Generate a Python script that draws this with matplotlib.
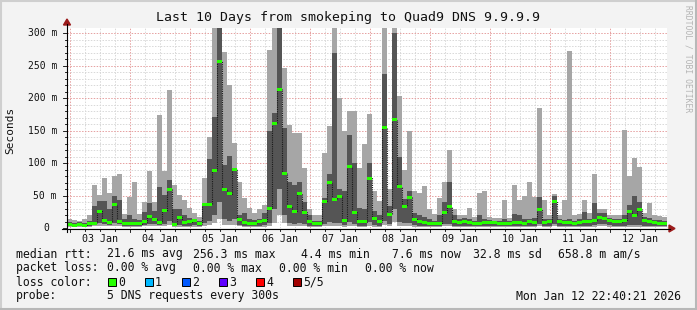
import matplotlib
matplotlib.use('Agg')
import matplotlib.pyplot as plt
import numpy as np
from matplotlib.patches import Rectangle, Polygon
from matplotlib.lines import Line2D

# ---------------- data (2-hour bins, 10 days, starting Jan 02 22:40) ----------------
median = [6, 5, 6, 5, 7, 8, 26, 12, 9, 36, 10, 7, 8, 8, 7, 10, 18, 14, 9, 27,
          60, 6, 17, 9, 10, 12, 7, 37, 37, 89, 257, 60, 53, 91, 13, 9, 8, 8, 10, 12,
          31, 162, 214, 85, 33, 26, 53, 25, 11, 7, 7, 41, 70, 45, 49, 12, 95, 25, 11, 10,
          77, 15, 10, 155, 22, 167, 64, 34, 48, 14, 10, 9, 8, 8, 8, 25, 33, 10, 9, 10,
          9, 8, 8, 9, 9, 9, 8, 8, 8, 9, 9, 8, 10, 9, 29, 9, 10, 41, 10, 9,
          9, 8, 9, 10, 11, 12, 16, 15, 12, 11, 10, 12, 26, 20, 29, 12, 11, 9, 8, 8]
inner_lo = [4, 3, 4, 3, 4, 5, 8, 6, 5, 8, 6, 4, 4, 4, 4, 5, 7, 6, 5, 7,
            12, 3, 5, 4, 4, 5, 4, 8, 12, 20, 40, 15, 12, 15, 5, 4, 4, 4, 4, 5,
            8, 30, 60, 20, 8, 7, 8, 6, 4, 3, 3, 7, 10, 8, 8, 5, 10, 6, 4, 4,
            10, 5, 4, 12, 6, 30, 10, 8, 8, 5, 4, 4, 3, 3, 3, 6, 7, 4, 4, 4,
            4, 4, 4, 4, 4, 4, 4, 4, 4, 4, 4, 4, 4, 4, 6, 4, 4, 6, 4, 4,
            4, 4, 4, 4, 4, 5, 6, 6, 5, 4, 4, 4, 5, 5, 5, 4, 4, 4, 4, 4]
inner_hi = [9, 8, 9, 8, 12, 34, 42, 42, 30, 49, 44, 14, 21, 15, 13, 25, 39, 26, 63, 52,
            75, 29, 29, 20, 16, 15, 12, 39, 106, 172, 320, 98, 111, 93, 21, 24, 15, 13, 15, 24,
            149, 177, 320, 154, 72, 67, 72, 41, 20, 12, 12, 47, 83, 270, 60, 57, 144, 101, 31, 30,
            100, 26, 20, 238, 34, 300, 110, 45, 57, 24, 20, 18, 14, 12, 20, 41, 72, 20, 15, 16,
            14, 12, 20, 14, 13, 12, 12, 14, 12, 22, 20, 14, 14, 16, 48, 14, 14, 50, 14, 13,
            14, 12, 14, 25, 15, 39, 24, 24, 16, 15, 14, 20, 36, 49, 40, 17, 16, 13, 13, 12]
outer_lo = [2, 2, 2, 2, 2, 3, 4, 3, 3, 4, 3, 2, 2, 2, 2, 3, 3, 3, 3, 3,
            5, 2, 2, 2, 2, 2, 2, 3, 5, 8, 15, 5, 5, 5, 3, 2, 2, 2, 2, 2,
            4, 8, 20, 8, 3, 3, 3, 3, 2, 2, 2, 3, 4, 4, 3, 2, 4, 3, 2, 2,
            4, 2, 2, 5, 3, 10, 4, 3, 3, 2, 2, 2, 2, 2, 2, 3, 3, 2, 2, 2,
            2, 2, 2, 2, 2, 2, 2, 2, 2, 2, 2, 2, 2, 2, 3, 2, 2, 3, 2, 2,
            2, 2, 2, 2, 2, 2, 3, 3, 2, 2, 2, 2, 2, 2, 2, 2, 2, 2, 2, 2]
outer_hi = [14, 13, 12, 14, 20, 67, 52, 77, 54, 81, 83, 22, 48, 71, 22, 40, 88, 40, 174, 88,
            213, 67, 52, 44, 31, 24, 18, 77, 141, 320, 320, 272, 221, 131, 72, 47, 31, 24, 29, 36,
            275, 320, 320, 247, 159, 147, 147, 93, 29, 21, 21, 116, 158, 320, 200, 149, 180, 180, 93, 129,
            176, 57, 42, 320, 60, 320, 203, 90, 149, 57, 54, 65, 30, 22, 47, 72, 121, 30, 21, 21,
            31, 18, 54, 57, 17, 16, 16, 44, 16, 66, 44, 49, 71, 48, 185, 44, 20, 53, 20, 43,
            273, 20, 22, 43, 24, 84, 29, 29, 21, 21, 20, 152, 81, 108, 95, 24, 39, 20, 19, 18]

day_labels = ['03 Jan', '04 Jan', '05 Jan', '06 Jan', '07 Jan',
              '08 Jan', '09 Jan', '10 Jan', '11 Jan', '12 Jan']
ytick_vals = [0, 50, 100, 150, 200, 250, 300]
ytick_labels = ['0', '50 m', '100 m', '150 m', '200 m', '250 m', '300 m']
loss_names = ['0', '1', '2', '3', '4', '5/5']
loss_colors = ['#26ff00', '#00b8ff', '#0059ff', '#5e00ff', '#ff0000', '#a10000']

# ---------------- figure ----------------
W, H = 697, 310
BG = '#f3f3f3'
fig = plt.figure(figsize=(W / 100, H / 100), dpi=100, facecolor=BG)
MONO = 'DejaVu Sans Mono'


def fx(px):
    return px / W


def fy(py):
    return 1 - py / H


X0, X1 = 67, 667
Y0, Y1 = 228.3, 27.7
YMAX = (Y0 - Y1) / 0.65
ax = fig.add_axes([fx(X0), fy(Y0), (X1 - X0) / W, (Y0 - Y1) / H])
ax.set_xlim(0, 240)
ax.set_ylim(0, YMAX)
ax.set_facecolor('white')
for s in ax.spines.values():
    s.set_visible(False)
ax.set_xticks([])
ax.set_yticks([])

# grid
off = 4.0 / 3.0  # midnight Jan 03 is 1h20m after start
dots = (0, (1.5, 1.5))
for v in range(10, 310, 10):
    if v % 50:
        ax.axhline(v, color='#d8d8d8', lw=0.7, ls=dots, zorder=0)
for v in range(50, 310, 50):
    ax.axhline(v, color='#e6a0a0', lw=0.7, ls=dots, zorder=0.5)
for k in range(40):
    t = off + 6 * k
    if t >= 240:
        break
    if k % 4:
        ax.axvline(t, color='#d8d8d8', lw=0.7, ls=dots, zorder=0)
    else:
        ax.axvline(t, color='#e6a0a0', lw=0.7, ls=dots, zorder=0.5)

# smoke
n = len(median)
edges = np.arange(n + 1) * 2.0
xs = edges[:-1]
med = np.array(median, float)
ol, oh = np.array(outer_lo, float), np.array(outer_hi, float)
il, ih = np.array(inner_lo, float), np.array(inner_hi, float)
ax.bar(xs, oh - ol, bottom=ol, width=2, align='edge', color='#a6a6a6', lw=0, zorder=2)
ax.bar(xs, ih - il, bottom=il, width=2, align='edge', color='#555555', lw=0, zorder=3)

# median
ax.stairs(med, edges, color='#1a1a1a', lw=0.8, ls=(0, (1, 1)), zorder=4)
gh = 3.0 / 0.65
ax.bar(xs, np.full(n, gh), bottom=med - gh / 2, width=2, align='edge',
       color='#26ff00', lw=0, zorder=5)

# ---------------- axes lines, arrows, ticks ----------------
fig.add_artist(Line2D([fx(62), fx(670)], [fy(228.5)] * 2, color='black', lw=0.8))
fig.add_artist(Line2D([fx(67), fx(67)], [fy(232), fy(24)], color='black', lw=0.8))
fig.add_artist(Polygon([(fx(669), fy(225)), (fx(675), fy(228.5)), (fx(669), fy(232))],
                       closed=True, color='#9b1b1b', transform=fig.transFigure))
fig.add_artist(Polygon([(fx(63.5), fy(25)), (fx(67), fy(19)), (fx(70.5), fy(25))],
                       closed=True, color='#9b1b1b', transform=fig.transFigure))
for v in range(0, 310, 10):
    py = Y0 - 0.65 * v
    ln = 4 if v % 50 == 0 else 2
    fig.add_artist(Line2D([fx(67 - ln), fx(67)], [fy(py)] * 2, color='black', lw=0.6))
for k in range(40):
    t = off + 6 * k
    if t >= 240:
        break
    px = X0 + t * 2.5
    ln = 3 if k % 4 == 0 else 2
    fig.add_artist(Line2D([fx(px)] * 2, [fy(228.5), fy(228.5 + ln)], color='black', lw=0.6))

# ---------------- texts ----------------
fig.text(fx(348), fy(18), 'Last 10 Days from smokeping to Quad9 DNS 9.9.9.9',
         ha='center', va='center', fontsize=9.5, family=MONO, color='#111111')
fig.text(fx(10), fy(130), 'Seconds', rotation=90, ha='center', va='center',
         fontsize=8, family=MONO, color='#111111')
fig.text(fx(688), fy(59), 'RRDTOOL / TOBI OETIKER', rotation=270, ha='center', va='center',
         fontsize=5.8, family=MONO, color='#b4b4b4')

for v, lab in zip(ytick_vals, ytick_labels):
    py = Y0 - 0.65 * v
    xr = 49 if lab == '0' else 57
    fig.text(fx(xr), fy(py), lab, ha='right', va='center', fontsize=7, family=MONO,
             color='#111111')

for k, lab in enumerate(day_labels):
    px = X0 + (off + 12 + 24 * k) * 2.5
    fig.text(fx(px), fy(238.5), lab, ha='center', va='center', fontsize=7.2, family=MONO,
             color='#111111')

LS = 8.3
rows = [
    (254, [(16, 'median rtt:'), (107, '21.6 ms avg'), (193, '256.3 ms max'), (301, '4.4 ms min'),
           (392, '7.6 ms now'), (473, '32.8 ms sd'), (558, '658.8 m am/s')]),
    (268, [(16, 'packet loss:'), (107, '0.00 % avg'), (193, '0.00 % max'), (279, '0.00 % min'),
           (365, '0.00 % now')]),
    (282, [(16, 'loss color:')]),
    (296, [(16, 'probe:'), (107, '5 DNS requests every 300s')]),
]
for py, items in rows:
    for px, s in items:
        fig.text(fx(px), fy(py), s, ha='left', va='center', fontsize=LS, family=MONO,
                 color='#111111')
fig.text(fx(681), fy(296), 'Mon Jan 12 22:40:21 2026', ha='right', va='center',
         fontsize=LS, family=MONO, color='#111111')

box_x = [108, 145, 182, 219, 256, 293]
for bx, name, col in zip(box_x, loss_names, loss_colors):
    fig.add_artist(Rectangle((fx(bx), fy(286)), 8 / W, 8 / H, transform=fig.transFigure,
                             facecolor=col, edgecolor='black', lw=0.7))
    fig.text(fx(bx + 10), fy(282), name, ha='left', va='center', fontsize=LS, family=MONO,
             color='#111111')

# border
fig.add_artist(Line2D([0, 1], [fy(1)] * 2, color='#cfcfcf', lw=1.5))
fig.add_artist(Line2D([fx(1)] * 2, [0, 1], color='#cfcfcf', lw=1.5))
fig.add_artist(Line2D([0, 1], [fy(309)] * 2, color='#b8b8b8', lw=1.5))
fig.add_artist(Line2D([fx(696)] * 2, [0, 1], color='#b8b8b8', lw=1.5))

fig.savefig('out.png', dpi=100, facecolor=BG)
